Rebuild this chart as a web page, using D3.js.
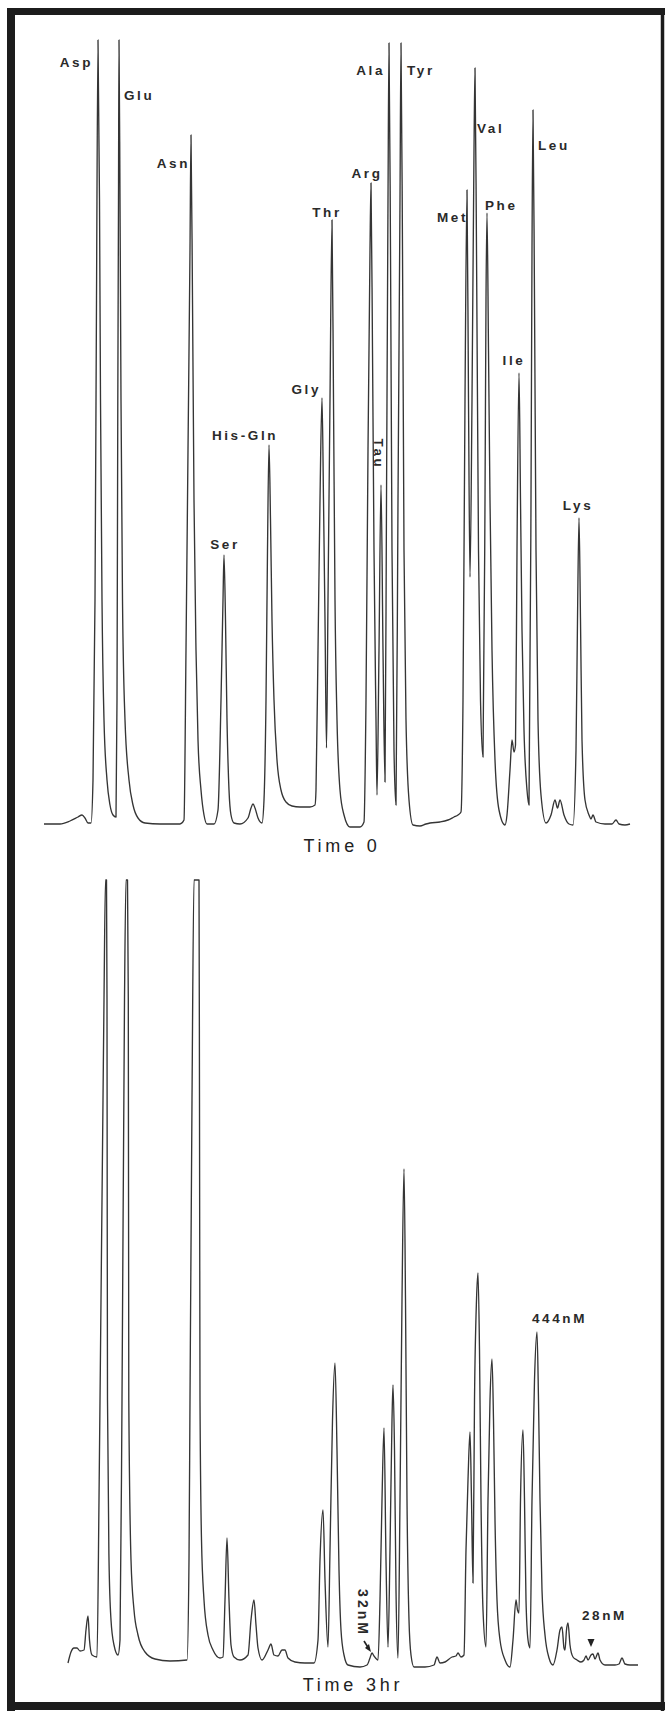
<!DOCTYPE html>
<html>
<head>
<meta charset="utf-8">
<script src="https://cdn.jsdelivr.net/npm/d3@7"></script>
<style>
  html, body { margin: 0; padding: 0; background: #fff; }
  svg { display: block; }
  .trace { fill: none; stroke: #353535; stroke-width: 1.35; stroke-linejoin: round; }
  .peak-label { font-family: "Liberation Sans", Arial, sans-serif; font-size: 13.5px; font-weight: bold; fill: #2a2a2a; letter-spacing: 2.6px; }
  .time-label { font-family: "Liberation Sans", Arial, sans-serif; font-size: 18px; fill: #222; letter-spacing: 3.8px; }
  .frame { stroke: #1c1c1c; }
</style>
</head>
<body>
<svg id="chart" width="666" height="1713"></svg>
<script>
// Chromatogram traces, [retention time (min), detector signal]
const topTrace = [
  [0.4, 0], [2.0, 0], [3.0, 1.5], [3.8, 3.5], [4.2, 4.5], [4.5, 3], [4.8, 0.5], [5.1, 0.5],
  [5.3, 22], [5.5, 112], [5.65, 262], [5.8, 392], [5.95, 312], [6.05, 212], [6.2, 112], [6.4, 52],
  [6.7, 22], [7.0, 9.5], [7.3, 4.5], [7.6, 3.5],
  [7.7, 62], [7.78, 212], [7.85, 312], [7.9, 392], [8.0, 312], [8.1, 212], [8.25, 112], [8.5, 52],
  [8.9, 22], [9.3, 9.5], [9.8, 3], [10.5, 0.5], [12.0, 0], [14.0, 0], [14.4, 2],
  [14.6, 87], [14.8, 187], [15.0, 287], [15.1, 344.5], [15.25, 262], [15.4, 162], [15.6, 87],
  [15.8, 42], [16.1, 17], [16.4, 4.5], [16.7, 0], [17.4, 0],
  [17.8, 7], [18.1, 62], [18.3, 112], [18.4, 134.5], [18.55, 102], [18.7, 52], [18.9, 17],
  [19.1, 4.5], [19.4, 0.5], [20.0, 0],
  [20.8, 3], [21.1, 8], [21.3, 10], [21.5, 8], [21.8, 3], [22.2, 0.5],
  [22.4, 12], [22.6, 62], [22.75, 137], [22.9, 189.5], [23.05, 152], [23.2, 102], [23.4, 62],
  [23.7, 32], [24.1, 17], [24.6, 11], [25.2, 9], [26.0, 8.5], [27.0, 8.5], [27.5, 9.5],
  [27.6, 17], [27.8, 87], [28.0, 162], [28.2, 213], [28.35, 162], [28.5, 102], [28.65, 38],
  [28.8, 112], [29.0, 212], [29.2, 302], [29.35, 212], [29.5, 112], [29.7, 52], [30.0, 17],
  [30.4, 4.5], [31.0, -1.5], [32.0, -1.5], [32.4, 1],
  [32.6, 62], [32.8, 187], [33.0, 287], [33.1, 320.5], [33.25, 237], [33.4, 137], [33.6, 52],
  [33.7, 14.5], [33.9, 87], [34.1, 169.5], [34.3, 87], [34.5, 21],
  [34.65, 162], [34.8, 312], [34.9, 390.5], [35.05, 287], [35.2, 137], [35.4, 37], [35.6, 9.5],
  [35.8, 162], [36.0, 312], [36.1, 390.5], [36.25, 287], [36.4, 137], [36.6, 52], [36.9, 12],
  [37.3, -0.5], [38.0, -1], [38.6, 0], [39.0, 0.5], [40.0, 1], [40.8, 2], [41.4, 3.5],
  [41.8, 4.5], [42.1, 6],
  [42.3, 62], [42.5, 212], [42.7, 317], [42.85, 212], [43.0, 123.5],
  [43.2, 212], [43.4, 337], [43.5, 378], [43.65, 287], [43.85, 137], [44.05, 62], [44.3, 33.5],
  [44.5, 162], [44.6, 262], [44.7, 305.5], [44.85, 237], [45.0, 162], [45.2, 87], [45.5, 32],
  [45.9, 7], [46.5, -0.5],
  [46.7, 4.5], [47.0, 27], [47.2, 42], [47.4, 36], [47.55, 39.5],
  [47.7, 137], [47.9, 225.5], [48.05, 162], [48.2, 97], [48.4, 47], [48.7, 17], [48.9, 9.5],
  [49.1, 162], [49.2, 287], [49.3, 357], [49.45, 262], [49.6, 137], [49.8, 52], [50.1, 14.5],
  [50.6, 0.5], [51.1, 4.5], [51.5, 12], [51.75, 8], [52.0, 12], [52.4, 4.5], [52.9, 0], [53.3, -0.5],
  [53.6, 37], [53.75, 102], [53.9, 153], [54.05, 102], [54.2, 42], [54.5, 12], [54.9, 4.5],
  [55.1, 2.5], [55.3, 4.5], [55.6, 1], [56.5, 0], [57.2, 0], [57.6, 2], [57.9, 0], [58.5, -0.5], [59.0, 0]
];

const bottomTrace = [
  [2.8, -0.5], [3.1, 5], [3.4, 7], [3.7, 7], [4.0, 5.5], [4.4, 6], [4.6, 16], [4.8, 23],
  [4.95, 11], [5.2, 3.5], [5.7, 2.5],
  [5.9, 81], [6.1, 181], [6.3, 281], [6.4, 331], [6.55, 391], [6.65, 391], [6.7, 331], [6.72, 231],
  [6.75, 131], [6.9, 51], [7.1, 21], [7.4, 8.5], [7.8, 3.5],
  [8.0, 11], [8.2, 131], [8.45, 331], [8.6, 391], [8.75, 391], [8.83, 331], [8.88, 131], [9.1, 51],
  [9.4, 26], [9.8, 13.5], [10.5, 5], [11.5, 1.5], [13.0, 0.5], [14.7, 1],
  [14.9, 51], [15.0, 131], [15.2, 281], [15.4, 391], [15.9, 391], [15.95, 281], [16.0, 131],
  [16.15, 61], [16.4, 31], [16.8, 13.5], [17.3, 6], [18.0, 2], [18.3, 2.5],
  [18.5, 31], [18.7, 62], [18.9, 31], [19.1, 8.5], [19.4, 2.5], [20.0, 1], [20.8, 3.5],
  [21.1, 21], [21.4, 31], [21.6, 18.5], [21.8, 7], [22.2, 1], [22.8, 6], [23.1, 9], [23.4, 3.5],
  [23.8, 3], [24.2, 6], [24.5, 6], [24.8, 2], [25.5, 0], [26.5, -0.5], [27.4, -0.5],
  [27.8, 11], [28.0, 51], [28.3, 76], [28.5, 41], [28.8, 7.5],
  [29.0, 56], [29.25, 121], [29.5, 149.5], [29.7, 106], [29.9, 46], [30.1, 16], [30.4, 3.5],
  [30.8, -1.5], [32.0, -2.5], [32.7, -1.5], [33.0, 2], [33.2, 4.5], [33.4, 3], [33.8, 1],
  [34.0, 31], [34.2, 81], [34.4, 117], [34.6, 51], [34.8, 7.5],
  [35.0, 56], [35.2, 121], [35.3, 138.5], [35.45, 106], [35.6, 36], [35.8, 2],
  [36.0, 81], [36.2, 181], [36.4, 246.5], [36.55, 181], [36.7, 81], [36.9, 21], [37.1, 3.5],
  [37.4, -2.5], [38.5, -2.5], [39.4, -1.5], [39.7, 2.5], [40.0, -0.5], [40.5, 0], [41.2, 2.5],
  [41.6, 3], [41.8, 4.5], [42.1, 2.5], [42.4, 3.5],
  [42.6, 56], [42.8, 91], [43.0, 115], [43.15, 81], [43.3, 39.5],
  [43.45, 131], [43.65, 181], [43.8, 194.5], [43.95, 156], [44.1, 81], [44.3, 26], [44.6, 7.5],
  [44.8, 81], [45.0, 131], [45.2, 151.5], [45.35, 121], [45.5, 71], [45.7, 31], [46.0, 11],
  [46.5, 1], [47.0, -2.5],
  [47.3, 11], [47.6, 31], [47.75, 26], [47.9, 24.5],
  [48.05, 81], [48.3, 116], [48.45, 81], [48.6, 31], [48.8, 11], [49.0, 7],
  [49.2, 81], [49.45, 141], [49.7, 165], [49.85, 131], [50.0, 81], [50.2, 36], [50.5, 13.5],
  [50.9, 2], [51.3, -1.5],
  [51.7, 6], [52.0, 16], [52.2, 17.5], [52.4, 7], [52.5, 6], [52.65, 16], [52.8, 19.5], [53.0, 8.5],
  [53.3, 2.5], [53.7, 1], [54.1, 0], [54.4, 1], [54.6, 3], [54.8, 1], [55.1, 3.5], [55.3, 4],
  [55.5, 1.5], [55.8, 4.5], [56.0, 1], [56.5, -1.5], [57.5, -1.5], [57.9, -1], [58.2, 2],
  [58.5, -1], [59.0, -1.5], [59.8, -1.5]
];

// Identified peaks of the Time 0 run
const peakNames   = ["Asp", "Glu", "Asn", "Ser", "His-Gln", "Gly", "Thr", "Arg", "Tau", "Ala", "Tyr", "Met", "Val", "Phe", "Ile", "Leu", "Lys"];
const peakTimes   = [5.8, 7.9, 15.1, 18.4, 22.9, 28.2, 29.2, 33.1, 34.1, 34.9, 36.1, 42.7, 43.5, 44.7, 47.9, 49.3, 53.9];
const peakSignals = [392, 392, 344.5, 134.5, 189.5, 213, 302, 320.5, 169.5, 390.5, 390.5, 317, 378, 305.5, 225.5, 357, 153];

// Concentration notes on the 3 hr run
const noteTexts   = ["444nM", "32nM", "28nM"];
const noteTimes   = [49.7, 33.2, 55.1];
const noteSignals = [165, 4.5, 7];

const runTitles = ["Time 0", "Time 3hr"];

// label placement relative to the peak apex: [dx, dy, anchor, rotate]
const labelLayout = {
  "Asp": [-5, 27, "end"], "Glu": [5, 60, "start"], "Asn": [-1, 33, "end"],
  "Ser": [1, -6, "middle"], "His-Gln": [-24, -5, "middle"], "Gly": [-1, -4, "end"],
  "Thr": [-5, -3, "middle"], "Arg": [-4, -5, "middle"], "Tau": [-7, -31, "middle", 90],
  "Ala": [-4, 32, "end"], "Tyr": [6, 32, "start"], "Met": [1, 32, "end"],
  "Val": [2, 65, "start"], "Phe": [-2, -3, "start"], "Ile": [-5, -8, "middle"],
  "Leu": [5, 40, "start"], "Lys": [-1, -8, "middle"]
};

const svg = d3.select('#chart');

const x = d3.scaleLinear().domain([0, 60]).range([40, 640]);
const yTop = d3.scaleLinear().domain([0, 392]).range([824, 40]);
const yBot = d3.scaleLinear().domain([0, 392]).range([1662, 878]);

const lineTop = d3.line().x(d => x(d[0])).y(d => yTop(d[1])).curve(d3.curveMonotoneX);
const lineBot = d3.line().x(d => x(d[0])).y(d => yBot(d[1])).curve(d3.curveMonotoneX);

svg.append('path').datum(topTrace).attr('class', 'trace').attr('d', lineTop);
svg.append('path').datum(bottomTrace).attr('class', 'trace').attr('d', lineBot);

// peak names
const peaks = peakNames.map((name, i) => ({ name: name, t: peakTimes[i], s: peakSignals[i] }));
svg.append('g').selectAll('text')
  .data(peaks)
  .enter().append('text')
  .attr('class', 'peak-label')
  .attr('text-anchor', d => labelLayout[d.name][2])
  .attr('transform', d => {
    const lay = labelLayout[d.name];
    const px = x(d.t) + lay[0], py = yTop(d.s) + lay[1];
    return `translate(${px},${py})` + (lay[3] ? ` rotate(${lay[3]})` : '');
  })
  .text(d => d.name);

// notes on the lower trace
const notes = noteTexts.map((txt, i) => ({ text: txt, t: noteTimes[i], s: noteSignals[i] }));

// 444nM sits above the Leu peak
svg.append('text').attr('class', 'peak-label')
  .attr('x', x(notes[0].t) - 5).attr('y', yBot(notes[0].s) - 9)
  .text(notes[0].text);

// 32nM, sideways, with a little arrow to the bump
const n32x = x(notes[1].t), n32y = yBot(notes[1].s);
svg.append('text').attr('class', 'peak-label')
  .style('font-size', '14px').style('letter-spacing', '3px')
  .attr('text-anchor', 'middle')
  .attr('transform', `translate(${n32x - 14},${n32y - 40}) rotate(90)`)
  .text(notes[1].text);
svg.append('path')
  .attr('d', `M${n32x - 8},${n32y - 12} L${n32x - 3},${n32y - 4}`)
  .attr('stroke', '#222').attr('stroke-width', 1.6);
svg.append('path')
  .attr('d', `M${n32x - 1},${n32y - 1} L${n32x - 7},${n32y - 5} L${n32x - 3},${n32y - 9} Z`)
  .attr('fill', '#222');

// 28nM with a down triangle
const n28x = x(notes[2].t), n28y = yBot(notes[2].s);
svg.append('text').attr('class', 'peak-label')
  .attr('x', n28x - 9).attr('y', n28y - 28)
  .text(notes[2].text);
svg.append('path')
  .attr('d', `M${n28x - 3.5},${n28y - 9} L${n28x + 3.5},${n28y - 9} L${n28x},${n28y - 1} Z`)
  .attr('fill', '#222');

// run titles
svg.append('text').attr('class', 'time-label')
  .attr('text-anchor', 'middle')
  .attr('x', x(30.2)).attr('y', yTop(0) + 28)
  .text(runTitles[0]);
svg.append('text').attr('class', 'time-label')
  .attr('text-anchor', 'middle')
  .attr('x', x(31.3)).attr('y', yBot(0) + 29)
  .text(runTitles[1]);

// heavy frame round the figure
const frame = svg.append('g').attr('class', 'frame');
frame.append('line').attr('x1', 11).attr('x2', 11).attr('y1', 8).attr('y2', 1711).attr('stroke-width', 8);
frame.append('line').attr('x1', 7).attr('x2', 665).attr('y1', 11.5).attr('y2', 11.5).attr('stroke-width', 7);
frame.append('line').attr('x1', 662.5).attr('x2', 662.5).attr('y1', 8).attr('y2', 1711).attr('stroke-width', 3.5);
frame.append('line').attr('x1', 7).attr('x2', 665).attr('y1', 1706).attr('y2', 1706).attr('stroke-width', 8);
</script>
</body>
</html>
